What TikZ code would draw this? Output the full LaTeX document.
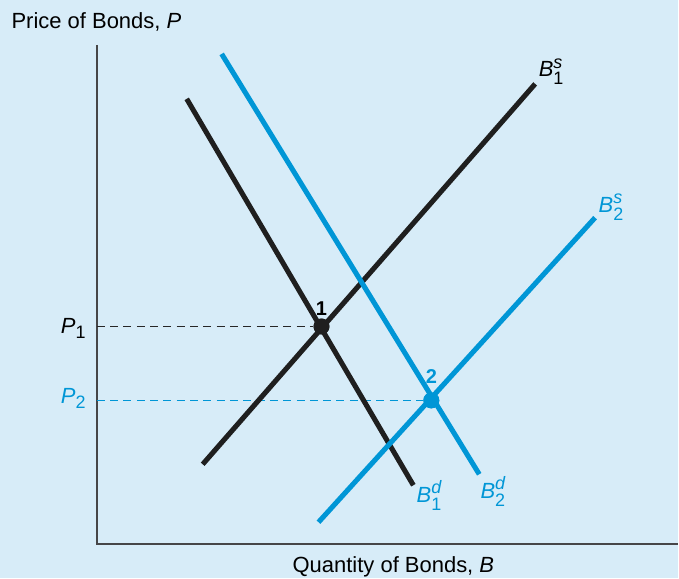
\documentclass[tikz,border=0pt]{standalone}
\usepackage{amsmath}
\usepackage{fontspec}
\setmainfont{Liberation Sans}
\usepackage{tikz}
\usetikzlibrary{positioning,calc}
\definecolor{panelbg}{RGB}{215,236,248}
\definecolor{bondblue}{RGB}{0,150,214}
\definecolor{axisgray}{RGB}{70,70,72}
\DeclareMathSizes{16.5}{16.5}{13.5}{11}
\newcommand{\bl}[3]{$\text{\itshape #1}^{\text{\itshape #2}}_{\text{#3}}$}
\tikzset{curveblack/.style={line width=3.8pt, draw=black!88}, curveblue/.style={line width=3.8pt, draw=bondblue}, axisline/.style={line width=1.6pt, draw=axisgray}, guide/.style={dashed, dash pattern=on 6pt off 4pt, line width=0.8pt}, eqdot/.style={circle, inner sep=0pt, minimum size=12pt}, lbl/.style={font=\fontsize{16.5}{19}\selectfont, inner sep=1pt}}
\begin{document}
\begin{tikzpicture}[x=0.75pt, y=-0.75pt]
\fill[panelbg] (0,0) rectangle (679,579);
% axes
\coordinate (ytop) at (97,45);
\coordinate (xend) at (679,545);
\draw[axisline] (ytop) |- (xend);
\node[lbl, anchor=west] (ylabel) at (10,22) {Price of Bonds, \textit{P}};
\node[lbl, anchor=north] (xlabel) at (394,556) {Quantity of Bonds, \textit{B}};
% curves
\coordinate (bd1a) at (187,99);
\coordinate (bd1b) at (414,486);
\coordinate (bs1a) at (203,465);
\coordinate (bs1b) at (536,84);
\coordinate (bd2a) at (222,54);
\coordinate (bd2b) at (480,475);
\coordinate (bs2a) at (319,523);
\coordinate (bs2b) at (596,218);
% equilibrium points
\node[eqdot, fill=black!88] (pt1) at (322,327) {};
\node[eqdot, fill=bondblue] (pt2) at (432,401) {};
\coordinate (p1axis) at (97,327);
\coordinate (p2axis) at (97,401);
\draw[guide, black!85] (p1axis) -- (pt1);
\draw[guide, bondblue] (p2axis) -- (pt2);
\draw[curveblack] (bd1a) -- (bd1b);
\draw[curveblack] (bs1a) -- (bs1b);
\draw[curveblue] (bd2a) -- (bd2b);
\draw[curveblue] (bs2a) -- (bs2b);
\node[eqdot, fill=black!88] at (pt1) {};
\node[eqdot, fill=bondblue] at (pt2) {};
% labels
\node[lbl, anchor=east] (p1lbl) at (88,329) {\textit{P}$_{\text{1}}$};
\node[lbl, anchor=east, text=bondblue] (p2lbl) at (88,399) {\textit{P}$_{\text{2}}$};
\node[lbl, font=\fontsize{15}{18}\selectfont\bfseries, above=1pt of pt1] (n1) {1};
\node[lbl, font=\fontsize{15}{18}\selectfont\bfseries, text=bondblue, above=5pt of pt2] (n2) {2};
\node[lbl, anchor=south west] (bs1lbl) at (538,86) {\bl{B}{s}{1}};
\node[lbl, anchor=south west, text=bondblue] (bs2lbl) at (598,222) {\bl{B}{s}{2}};
\node[lbl, anchor=north, text=bondblue] (bd1lbl) at (430,480) {\bl{B}{d}{1}};
\node[lbl, anchor=north, text=bondblue] (bd2lbl) at (494,476) {\bl{B}{d}{2}};
\end{tikzpicture}
\end{document}
